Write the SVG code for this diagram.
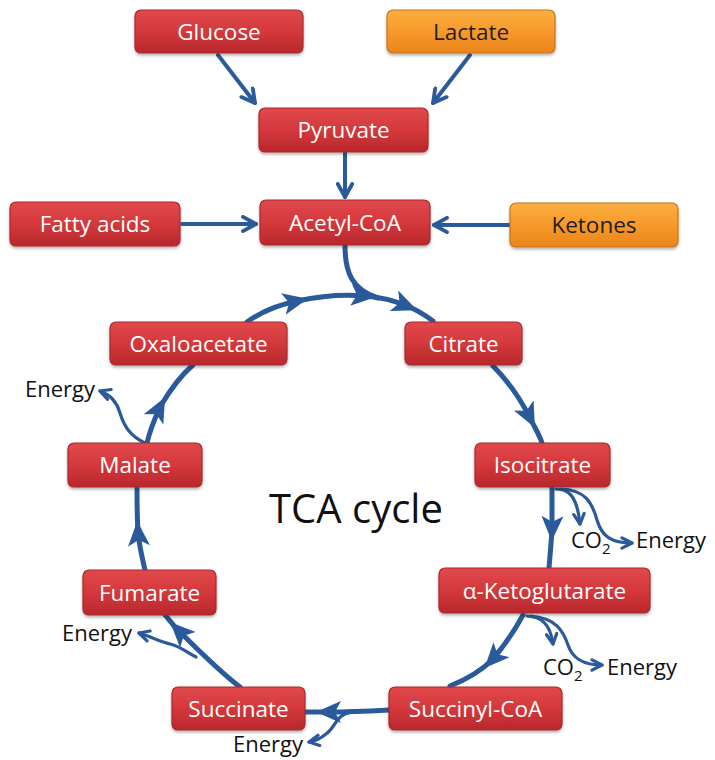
<svg xmlns="http://www.w3.org/2000/svg" width="715" height="760" viewBox="0 0 715 760">
<style>
.red rect{fill:url(#gRed);stroke:#a8282b;stroke-width:1.2;filter:url(#sh)}
.org rect{fill:url(#gOrg);stroke:#c8741a;stroke-width:1.2;filter:url(#sh)}
.red text{fill:#ffffff;font-family:"Open Sans","Liberation Sans",sans-serif;font-size:22.5px;text-anchor:middle}
.org text{fill:#1e1e1e;font-family:"Open Sans","Liberation Sans",sans-serif;font-size:22.5px;text-anchor:middle}
.ln{fill:none;stroke:#2a5a99;stroke-linecap:round;stroke-linejoin:round}
.top{stroke-width:4;marker-end:url(#openL)}
.cyc{stroke-width:5;marker-mid:url(#tri)}
.br{stroke-width:3.2;marker-end:url(#openS)}
.lbl{fill:#111;font-family:"Open Sans","Liberation Sans",sans-serif;font-size:22px}
.title{fill:#111;font-family:"Open Sans","Liberation Sans",sans-serif;font-size:40px;text-anchor:middle}
</style>
<defs>
<linearGradient id="gRed" x1="0" y1="0" x2="0" y2="1">
<stop offset="0" stop-color="#e0494c"/><stop offset="0.5" stop-color="#d4383b"/><stop offset="1" stop-color="#b8282c"/>
</linearGradient>
<linearGradient id="gOrg" x1="0" y1="0" x2="0" y2="1">
<stop offset="0" stop-color="#fbb040"/><stop offset="0.5" stop-color="#f7992a"/><stop offset="1" stop-color="#ea851b"/>
</linearGradient>
<filter id="sh" x="-10%" y="-10%" width="120%" height="140%">
<feDropShadow dx="0" dy="2" stdDeviation="1.5" flood-color="#000" flood-opacity="0.3"/>
</filter>
<marker id="openL" viewBox="0 0 18 18" refX="15" refY="9" markerWidth="18" markerHeight="18" markerUnits="userSpaceOnUse" orient="auto">
<path d="M2,1.8 L15,9 L2,16.2" fill="none" stroke="#2a5a99" stroke-width="3.8" stroke-linecap="round" stroke-linejoin="round"/>
</marker>
<marker id="openS" viewBox="0 0 14 14" refX="12" refY="7" markerWidth="14" markerHeight="14" markerUnits="userSpaceOnUse" orient="auto">
<path d="M2,1.8 L12,7 L2,12.2" fill="none" stroke="#2a5a99" stroke-width="3.2" stroke-linecap="round" stroke-linejoin="round"/>
</marker>
<marker id="tri" viewBox="0 0 26 24" refX="14" refY="12" markerWidth="26" markerHeight="24" markerUnits="userSpaceOnUse" orient="auto">
<path d="M0,1 L25,12 L0,23 L6,12 z" fill="#2a5a99"/>
</marker>
</defs>

<g id="connectors">
<path class="ln top" d="M218,55 L255,103"/>
<path class="ln top" d="M470,55 L433,103"/>
<path class="ln top" d="M345,153 L345,197"/>
<path class="ln top" d="M182,224 L256,224"/>
<path class="ln top" d="M510,225 L434,225"/>
<path class="ln" stroke-width="5" d="M345,246 C345,272 352,290 378,298"/>
<path class="ln cyc" d="M247,322 C262,311 278,305 297,301 C320,296 345,294 365,296 C380,297 395,301 407,306 C417,310 425,315 433,321"/>
<path class="ln cyc" d="M493,366 C505,378 520,398 530,418 C535,428 540,436 542,443"/>
<path class="ln cyc" d="M552,488 C552,505 552,518 552,530 C551,545 550,556 549,568"/>
<path class="ln br" d="M556,489 C568,489 577,495 580,524"/>
<path class="ln br" d="M561,489 C585,490 592,502 597,520 C602,537 612,543 632,543"/>
<path class="ln cyc" d="M523,615 C515,630 505,645 492,660 C480,672 465,680 450,686"/>
<path class="ln br" d="M527,616 C540,617 550,622 553,644"/>
<path class="ln br" d="M531,616 C555,618 563,630 568,645 C573,660 585,665 602,665"/>
<path class="ln cyc" d="M389,710 C370,711 350,712 327,712 C318,712 312,712 306,712"/>
<path class="ln br" d="M352,712 C336,714 336,727 326,734 C320,739 315,741 309,742"/>
<path class="ln cyc" d="M240,687 C220,672 200,652 178,630 C172,624 168,618 165,615"/>
<path class="ln br" d="M196,657 C186,652 180,646 170,644 C160,642 152,637 139,633"/>
<path class="ln cyc" d="M145,570 C142,557 139,545 138,532 C137,515 137,500 137,488"/>
<path class="ln cyc" d="M147,443 C150,430 155,418 160,407 C170,390 180,376 193,365"/>
<path class="ln br" d="M145,443 C130,436 124,426 120,413 C117,402 111,395 100,391"/>
</g>

<g id="glucose" class="red"><rect x="135" y="10" width="168" height="43" rx="6"/><text x="219" y="39.5">Glucose</text></g>
<g id="lactate" class="org"><rect x="387" y="10" width="168" height="43" rx="6"/><text x="471" y="39.5">Lactate</text></g>
<g id="pyruvate" class="red"><rect x="259" y="108" width="169" height="44" rx="6"/><text x="343.5" y="138">Pyruvate</text></g>
<g id="acetylcoa" class="red"><rect x="260" y="200" width="170" height="45" rx="6"/><text x="345" y="230.5">Acetyl-CoA</text></g>
<g id="fattyacids" class="red"><rect x="10" y="202" width="170" height="44" rx="6"/><text x="95" y="232">Fatty acids</text></g>
<g id="ketones" class="org"><rect x="510" y="203" width="168" height="44" rx="6"/><text x="594" y="233">Ketones</text></g>
<g id="oxaloacetate" class="red"><rect x="110" y="322" width="177" height="43" rx="6"/><text x="198.5" y="351.5">Oxaloacetate</text></g>
<g id="citrate" class="red"><rect x="405" y="322" width="117" height="43" rx="6"/><text x="463.5" y="351.5">Citrate</text></g>
<g id="isocitrate" class="red"><rect x="475" y="443" width="135" height="44" rx="6"/><text x="542.5" y="473">Isocitrate</text></g>
<g id="malate" class="red"><rect x="68" y="443" width="134" height="44" rx="6"/><text x="135" y="473">Malate</text></g>
<g id="fumarate" class="red"><rect x="83" y="570" width="133" height="45" rx="6"/><text x="149.5" y="600.5">Fumarate</text></g>
<g id="ketoglutarate" class="red"><rect x="439" y="568" width="211" height="45" rx="6"/><text x="544.5" y="598.5">α-Ketoglutarate</text></g>
<g id="succinate" class="red"><rect x="172" y="687" width="133" height="43" rx="6"/><text x="238.5" y="716.5">Succinate</text></g>
<g id="succinylcoa" class="red"><rect x="389" y="687" width="173" height="43" rx="6"/><text x="475.5" y="716.5">Succinyl-CoA</text></g>

<g id="labels">
<text class="title" x="356" y="523">TCA cycle</text>
<text class="lbl" x="95" y="397" text-anchor="end">Energy</text>
<text class="lbl" x="132" y="641" text-anchor="end">Energy</text>
<text class="lbl" x="303" y="752" text-anchor="end">Energy</text>
<text class="lbl" x="571" y="548">CO<tspan font-size="15" dy="6">2</tspan></text>
<text class="lbl" x="636" y="548">Energy</text>
<text class="lbl" x="543" y="675">CO<tspan font-size="15" dy="6">2</tspan></text>
<text class="lbl" x="607" y="675">Energy</text>
</g>
</svg>
